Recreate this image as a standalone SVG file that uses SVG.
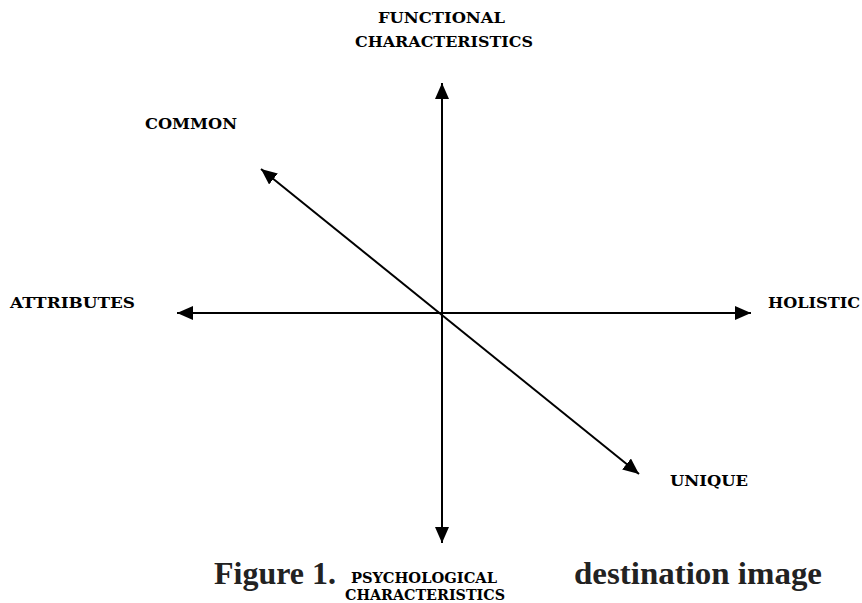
<svg xmlns="http://www.w3.org/2000/svg" width="862" height="603" viewBox="0 0 862 603">
<style>
.lbl{font-family:"DejaVu Serif","Liberation Serif",serif;font-weight:bold;font-size:14px;fill:#000}
.cap{font-family:"Liberation Serif","Times New Roman",serif;font-weight:bold;font-size:31px;fill:#222}
.ax{stroke:#000;stroke-width:2;fill:none}
</style>
<defs>
<marker id="ah" markerUnits="userSpaceOnUse" markerWidth="16" markerHeight="14" refX="16" refY="7" orient="auto-start-reverse">
<path d="M0,0 L16,7 L0,14 z" fill="#000"/>
</marker>
</defs>
<rect width="862" height="603" fill="#fff"/>
<g id="connectors">
<line class="ax" x1="442" y1="83" x2="442" y2="543" marker-start="url(#ah)" marker-end="url(#ah)"/>
<line class="ax" x1="177" y1="313" x2="751" y2="313" marker-start="url(#ah)" marker-end="url(#ah)"/>
<line class="ax" x1="261" y1="169" x2="639" y2="474" marker-start="url(#ah)" marker-end="url(#ah)"/>
</g>
<g id="functional">
<text class="lbl" x="378" y="23" textLength="127" lengthAdjust="spacingAndGlyphs">FUNCTIONAL</text>
<text class="lbl" x="355" y="47" textLength="178" lengthAdjust="spacingAndGlyphs">CHARACTERISTICS</text>
</g>
<g id="common"><text class="lbl" x="145" y="129" textLength="92" lengthAdjust="spacingAndGlyphs">COMMON</text></g>
<g id="attributes"><text class="lbl" x="10" y="308" textLength="125" lengthAdjust="spacingAndGlyphs">ATTRIBUTES</text></g>
<g id="holistic"><text class="lbl" x="768" y="308" textLength="92" lengthAdjust="spacingAndGlyphs">HOLISTIC</text></g>
<g id="unique"><text class="lbl" x="670" y="486" textLength="78" lengthAdjust="spacingAndGlyphs">UNIQUE</text></g>
<g id="caption">
<text class="cap" x="214" y="584" textLength="122" lengthAdjust="spacingAndGlyphs">Figure 1.</text>
<text class="cap" x="574" y="584" textLength="248" lengthAdjust="spacingAndGlyphs">destination image</text>
</g>
<g id="psychological">
<text class="lbl" x="351" y="583" textLength="146" lengthAdjust="spacingAndGlyphs">PSYCHOLOGICAL</text>
<text class="lbl" x="345" y="600" textLength="160" lengthAdjust="spacingAndGlyphs">CHARACTERISTICS</text>
</g>
</svg>
